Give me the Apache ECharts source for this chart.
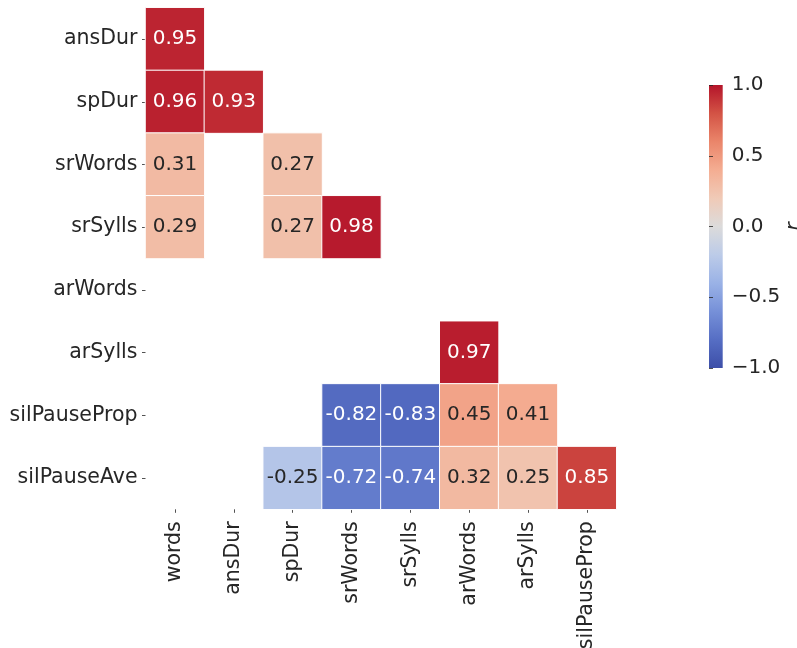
<!DOCTYPE html>
<html>
<head>
<meta charset="utf-8">
<style>
  html, body { margin: 0; padding: 0; background: #fff; }
  #chart { width: 797px; height: 648px; }
</style>
<script src="https://cdn.jsdelivr.net/npm/echarts@6/dist/echarts.min.js"></script>
</head>
<body>
<div id="chart"></div>
<script>
// Variables on the horizontal axis (left to right)
const colLabels = ['words', 'ansDur', 'spDur', 'srWords', 'srSylls', 'arWords', 'arSylls', 'silPauseProp'];
// Variables on the vertical axis (top to bottom)
const rowLabels = ['ansDur', 'spDur', 'srWords', 'srSylls', 'arWords', 'arSylls', 'silPauseProp', 'silPauseAve'];

// Significant pairwise correlations, lower triangle; null = not shown
const rowAnsDur       = [0.95];
const rowSpDur        = [0.96, 0.93];
const rowSrWords      = [0.31, null, 0.27];
const rowSrSylls      = [0.29, null, 0.27, 0.98];
const rowArWords      = [null, null, null, null, null];
const rowArSylls      = [null, null, null, null, null, 0.97];
const rowSilPauseProp = [null, null, null, -0.82, -0.83, 0.45, 0.41];
const rowSilPauseAve  = [null, null, -0.25, -0.72, -0.74, 0.32, 0.25, 0.85];

const corrRows = [rowAnsDur, rowSpDur, rowSrWords, rowSrSylls, rowArWords, rowArSylls, rowSilPauseProp, rowSilPauseAve];

// Colour bar ticks
const cbarTicks = [-1.0, -0.5, 0.0, 0.5, 1.0];

// Diverging blue-grey-red palette, evenly spaced from -1 to 1
const palette = ['#3d4fa8', '#566ec4', '#7690d8', '#9ab2e6', '#bccbe8', '#dcdbdb',
                 '#f0cab7', '#f4ad92', '#ea856a', '#d35345', '#b4142a'];

const FONT = 'DejaVu Sans';
const INK = '#262626';

const cells = [];
corrRows.forEach(function (row, r) {
  row.forEach(function (v, c) {
    if (v === null) return;
    cells.push({
      value: [c, r, v],
      label: { color: Math.abs(v) > 0.6 ? '#ffffff' : INK }
    });
  });
});

const chart = echarts.init(document.getElementById('chart'), null, { renderer: 'canvas' });

const gradientStops = palette.map(function (col, i) {
  return { offset: 1 - i / (palette.length - 1), color: col };
});

chart.setOption({
  backgroundColor: '#ffffff',
  animation: false,
  textStyle: { fontFamily: FONT },
  grid: [
    { left: 145.5, top: 7.7, width: 470.8, height: 501.6, outerBoundsMode: 'none', containLabel: false },
    {
      left: 709, top: 85, width: 13.7, height: 283, outerBoundsMode: 'none', containLabel: false,
      show: true, borderWidth: 0,
      backgroundColor: { type: 'linear', x: 0, y: 0, x2: 0, y2: 1, colorStops: gradientStops }
    }
  ],
  xAxis: [
    {
      type: 'category', gridIndex: 0, data: colLabels, position: 'bottom',
      axisLine: { show: false },
      axisTick: { show: true, alignWithLabel: true, length: 3.5, lineStyle: { color: INK, width: 0.8 } },
      axisLabel: { rotate: 90, margin: 12, fontSize: 20.5, color: INK, fontFamily: FONT, interval: 0 },
      splitLine: { show: false }
    },
    { type: 'value', gridIndex: 1, min: 0, max: 1, show: false }
  ],
  yAxis: [
    {
      type: 'category', gridIndex: 0, data: rowLabels, inverse: true,
      axisLine: { show: false },
      axisTick: { show: true, alignWithLabel: true, length: 3.5, lineStyle: { color: INK, width: 0.8 } },
      axisLabel: { margin: 8, fontSize: 20.5, color: INK, fontFamily: FONT, interval: 0 },
      splitLine: { show: false }
    },
    {
      type: 'value', gridIndex: 1, position: 'right', min: -1, max: 1, interval: 0.5,
      axisLine: { show: false },
      axisTick: { show: true, length: 4, lineStyle: { color: INK, width: 0.8 } },
      axisLabel: {
        margin: 9, fontSize: 20, color: INK, fontFamily: FONT,
        formatter: function (v) {
          return cbarTicks.indexOf(v) >= 0 ? v.toFixed(1).replace('-', '\u2212') : '';
        }
      },
      splitLine: { show: false },
      name: 'r', nameLocation: 'middle', nameRotate: 90, nameGap: 59,
      nameTextStyle: { fontSize: 20, color: INK, fontFamily: FONT, fontStyle: 'italic' }
    }
  ],
  visualMap: {
    show: false, type: 'continuous', min: -1, max: 1, dimension: 2, seriesIndex: 0,
    inRange: { color: palette }
  },
  series: [
    {
      type: 'heatmap', xAxisIndex: 0, yAxisIndex: 0, data: cells,
      itemStyle: { borderColor: '#ffffff', borderWidth: 1 },
      label: {
        show: true, fontSize: 20, fontFamily: FONT,
        formatter: function (p) { return p.value[2].toFixed(2); }
      },
      emphasis: { disabled: true }
    }
  ]
});
</script>
</body>
</html>
